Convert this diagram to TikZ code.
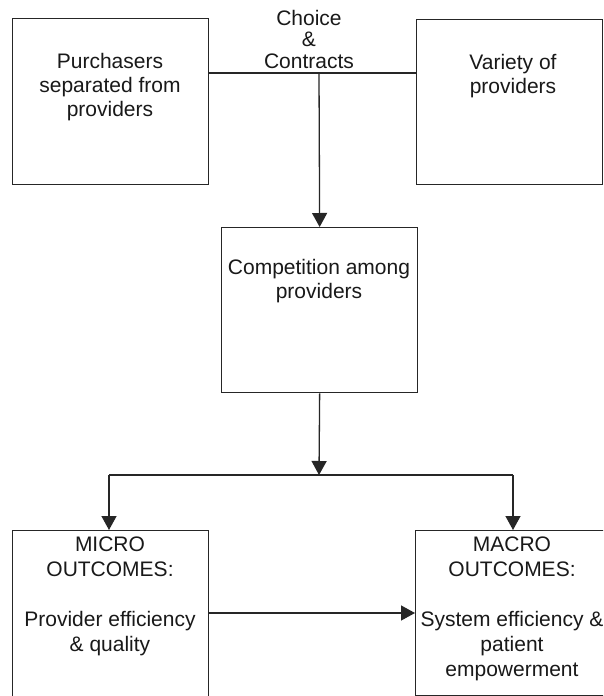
\documentclass[tikz,border=0pt]{standalone}
\usepackage{fontspec}
\setmainfont{Liberation Sans}
\usetikzlibrary{arrows.meta}

\tikzset{
  box/.style={draw=black!85, line width=1.3pt, rectangle, inner sep=0pt, anchor=north west},
  txt/.style={anchor=north, inner sep=0pt, align=center, text=black!90,
              font=\fontsize{21}{24}\selectfont},
  ln/.style={draw=black!85, line width=1.3pt},
  arr/.style={ln, -{Triangle[length=14pt,width=15pt]}}
}

\begin{document}
\begin{tikzpicture}[x=1pt, y=-1pt]
  \useasboundingbox (0,0) rectangle (603,696);
  \fill[white] (0,0) rectangle (603,696);
  \clip (0,0) rectangle (603,696);

  % boxes
  \node[box, minimum width=196, minimum height=166] (purch) at (12,18) {};
  \node[box, minimum width=186, minimum height=165] (variety) at (416,19) {};
  \node[box, minimum width=196, minimum height=165] (comp) at (221,227) {};
  \node[box, minimum width=196, minimum height=166] (micro) at (12,530) {};
  \node[box, minimum width=196, minimum height=165] (macro) at (415,530) {};

  % box texts
  \node[txt] (purchT) at (110,53) {Purchasers\\separated from\\providers};
  \node[txt] (varietyT) at (513,54) {Variety of\\providers};
  \node[txt] (compT) at (319,259) {Competition among\\providers};
  \node[txt, font=\fontsize{21}{25}\selectfont] (microT) at (110,537)
    {MICRO\\OUTCOMES:\\[25pt]Provider efficiency\\\& quality};
  \node[txt, font=\fontsize{21}{25}\selectfont] (macroT) at (512,537)
    {MACRO\\OUTCOMES:\\[25pt]System efficiency \&\\patient\\empowerment};

  % label above the joining line
  \node[txt, font=\fontsize{21}{21.5}\selectfont] (choice) at (309,10)
    {Choice\\\&\\Contracts};

  % connectors
  \coordinate (cc) at (319,73);
  \coordinate (split) at (319,475);
  \coordinate (hl) at (109,475);
  \coordinate (hr) at (513,475);
  \coordinate (midrow) at (300,613);

  \draw[ln] (purch.east |- cc) -- (variety.west |- cc);
  \draw[arr] (cc) -- (comp.north);
  \draw[arr] (comp.south) -- (split);
  \draw[ln] (hl) -- (hr);
  \draw[arr] (hl) -- (hl |- micro.north);
  \draw[arr] (hr) -- (hr |- macro.north);
  \draw[arr] (micro.east |- midrow) -- (macro.west |- midrow);
\end{tikzpicture}
\end{document}
